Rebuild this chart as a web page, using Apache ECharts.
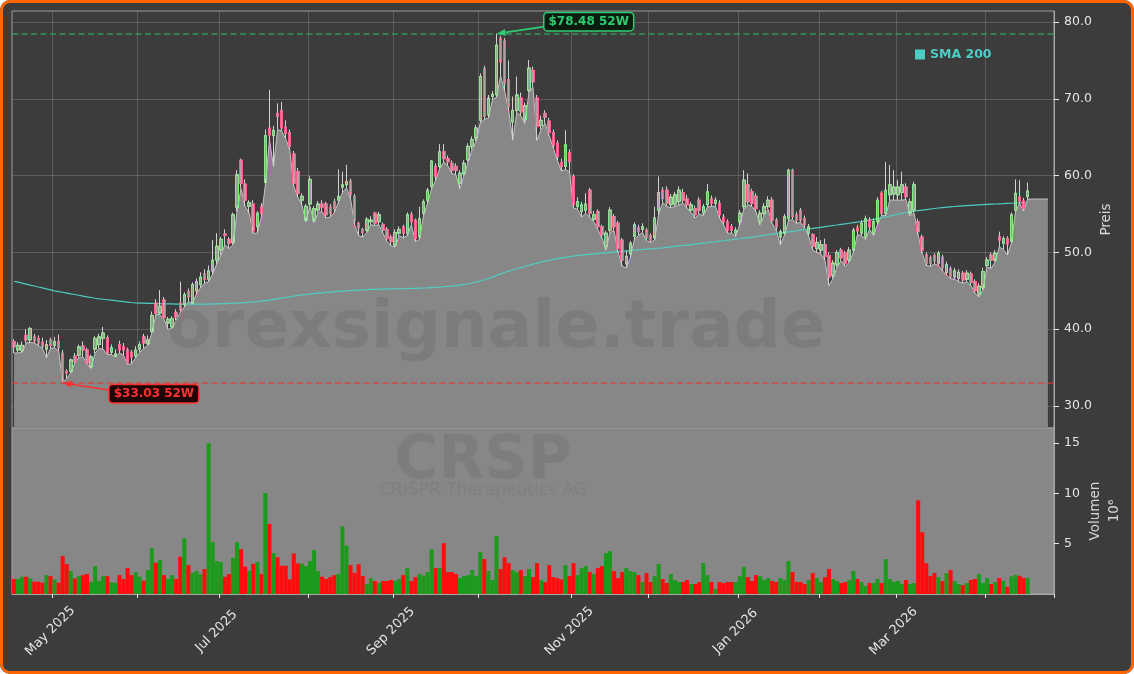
<!DOCTYPE html>
<html><head><meta charset="utf-8">
<script src="https://cdn.jsdelivr.net/npm/echarts@6/dist/echarts.min.js"></script>
<style>
html,body{margin:0;padding:0;background:#ffffff;}
#wrap{position:relative;width:1134px;height:674px;background:#3c3c3c;border-radius:10px;overflow:hidden;}
#chart{position:absolute;left:0;top:0;width:1134px;height:674px;}
#frame{position:absolute;left:0;top:0;width:1134px;height:674px;box-sizing:border-box;border:3px solid #ff6600;border-radius:10px;pointer-events:none;}
</style></head><body>
<div id="wrap"><div id="chart"></div><div id="frame"></div></div>
<script>
// ---------------- data ----------------
const startDate = '2025-04-16';
const holidays = ['2025-04-18','2025-05-26','2025-06-19','2025-07-04','2025-09-01','2025-11-27','2025-12-25','2026-01-01','2026-01-19','2026-02-16','2026-04-03'];
const monthNames = ['Jan','Feb','Mar','Apr','May','Jun','Jul','Aug','Sep','Oct','Nov','Dec'];
const priceTicks = [30, 40, 50, 60, 70, 80];
const volumeTicks = [5, 10, 15];
const high52 = 78.48;
const low52 = 33.03;
const ticker = 'CRSP';
const companyName = 'CRISPR Therapeutics AG';
const watermark = 'orexsignale.trade';

const opens = [
38.4,37.3,37.2,39.2,38.6,39.0,38.8,38.3,37.4,38.6,
37.9,38.4,36.9,34.5,34.5,36.5,36.6,37.8,37.3,35.1,
37.4,38.0,38.8,38.9,37.0,36.5,38.0,37.7,37.3,37.0,
36.5,37.4,39.0,38.1,39.7,43.4,42.1,43.8,40.8,40.3,
42.2,43.4,43.2,44.9,43.4,45.0,45.8,47.2,46.5,47.6,
49.0,50.3,52.4,51.7,51.3,55.9,62.0,58.9,56.0,56.3,
53.35,55.95,59.1,66.2,65.2,68.1,68.5,66.3,65.6,62.8,
60.5,56.8,54.2,56.3,54.2,55.5,56.3,56.3,55.9,56.6,
56.8,58.5,58.8,59.3,57.3,53.8,53.0,52.9,54.0,55.1,
54.0,53.6,53.0,52.0,51.0,52.5,53.3,52.5,54.95,54.2,
52.0,55.1,56.8,58.6,61.2,61.2,63.1,62.2,61.6,61.2,
59.0,60.3,62.1,63.8,64.9,67.2,73.9,67.9,70.3,70.5,
77.8,77.5,72.5,67.0,68.5,70.1,67.3,71.1,73.7,70.1,
66.5,68.1,67.1,65.6,64.2,61.7,61.2,63.0,59.9,56.0,
55.3,55.5,58.1,54.3,55.3,53.35,50.75,52.9,54.65,53.8,
51.6,48.5,49.8,52.1,53.2,53.0,52.9,52.2,51.9,55.5,
58.1,58.1,56.2,56.3,56.6,57.8,57.0,55.5,55.7,56.8,
55.1,56.2,57.0,56.4,56.4,54.6,54.0,53.35,52.5,54.0,
55.95,58.8,57.9,57.3,54.0,55.1,55.95,56.8,54.2,52.0,
52.5,54.4,60.7,54.9,55.5,54.4,52.5,52.3,50.5,50.3,
51.0,49.6,47.0,48.4,50.3,49.9,49.0,50.3,53.2,52.5,
52.0,54.2,52.5,54.0,57.7,55.1,57.5,57.6,57.5,57.8,
58.5,55.1,55.5,54.0,52.0,49.7,49.3,49.6,48.6,49.4,
47.4,47.9,46.8,46.6,47.3,46.5,47.2,46.2,44.6,45.4,
48.3,49.66,49.0,52.05,51.2,51.8,51.4,55.5,57.2,56.7,
57.26];
const closes = [
37.7,37.9,37.9,38.6,40.1,38.5,38.2,37.8,38.0,37.9,
38.4,37.6,33.2,34.3,36.0,35.8,37.7,37.3,35.6,36.4,
38.8,39.0,39.5,36.9,37.6,36.8,37.3,37.3,35.6,36.4,
37.3,38.0,38.2,38.6,41.8,42.1,43.0,41.5,41.3,41.4,
41.6,42.5,44.5,44.2,45.8,46.2,46.8,46.5,47.6,49.0,
50.8,51.7,52.2,51.2,54.9,60.1,59.0,56.8,56.5,52.8,
55.1,55.1,65.2,65.3,65.9,67.7,66.2,65.5,63.8,59.0,
57.7,57.3,56.0,59.5,55.7,56.3,55.9,54.9,55.1,55.7,
57.3,58.8,59.2,57.5,54.2,53.2,52.6,54.3,54.2,53.8,
54.9,52.9,51.8,51.4,52.6,53.0,52.5,54.9,54.0,51.8,
54.4,56.6,58.1,61.9,59.9,63.1,62.2,61.8,60.7,60.7,
60.3,61.6,63.8,64.7,66.2,72.9,67.7,70.1,70.6,77.0,
74.8,72.0,69.0,68.5,70.5,68.3,69.1,74.0,72.2,66.4,
67.2,67.6,65.6,64.0,62.5,61.2,64.0,61.8,56.2,56.6,
56.2,56.3,55.1,54.9,53.35,52.3,52.5,55.5,53.35,50.5,
49.0,49.5,51.2,53.6,52.7,53.35,51.9,51.6,54.5,57.8,
57.0,56.4,57.2,57.5,58.1,56.8,56.2,56.2,54.9,55.5,
55.95,57.9,56.4,56.8,54.9,54.0,52.9,52.9,52.9,55.1,
59.4,56.6,56.4,55.7,55.1,55.95,56.8,54.2,53.35,52.7,
54.65,60.7,54.65,54.2,54.2,53.6,53.35,50.8,51.3,51.0,
49.5,46.8,48.6,50.0,49.3,48.6,50.3,52.9,52.8,53.8,
54.4,53.35,54.0,56.8,55.1,58.1,58.8,58.5,58.5,58.8,
57.26,56.6,58.8,52.7,50.3,48.6,48.6,48.9,49.9,48.0,
48.4,46.9,47.6,47.4,46.4,47.3,46.1,45.0,45.6,47.5,
49.0,49.0,49.9,51.6,51.8,51.1,54.9,57.7,56.7,55.7,
58.0];
const lows = [
36.9,36.9,37.0,38.2,38.3,38.2,37.9,37.5,36.3,37.5,
37.6,37.2,33.03,33.6,34.3,35.6,36.3,36.4,35.5,34.9,
36.9,37.5,37.4,36.7,36.7,36.4,36.9,36.6,35.4,35.5,
36.3,37.0,37.5,37.9,39.5,41.9,41.9,41.3,40.0,40.1,
41.2,42.2,42.9,43.6,43.3,44.6,45.4,46.0,46.2,47.2,
48.5,49.6,51.0,50.5,51.0,55.3,58.3,56.0,55.1,52.5,
52.5,54.6,58.8,64.6,61.2,66.0,65.8,64.8,63.4,58.6,
57.2,56.2,54.0,56.0,53.9,55.2,55.3,54.5,54.6,55.2,
56.5,57.8,58.4,57.0,53.6,52.2,52.0,52.6,53.6,53.5,
53.6,52.5,51.4,50.9,50.7,52.2,51.9,52.2,53.6,51.4,
51.7,54.8,56.4,58.3,59.4,60.9,61.8,61.3,60.3,60.1,
58.3,60.0,61.8,63.4,64.5,66.9,67.3,67.5,69.9,70.2,
73.0,71.0,68.5,64.6,68.2,67.8,66.8,70.8,71.5,64.6,
66.0,66.8,65.2,63.6,62.0,60.6,60.8,60.5,55.8,55.6,
54.6,55.1,54.6,54.0,53.0,51.9,50.3,52.6,52.8,50.0,
48.2,48.0,49.3,51.7,52.2,52.6,51.5,51.3,51.6,55.0,
56.5,56.0,55.8,56.0,56.2,56.4,55.8,55.2,54.5,55.0,
54.8,55.9,56.0,56.0,54.5,53.6,52.5,52.5,52.1,53.6,
55.6,56.2,56.0,55.3,53.6,54.8,55.6,53.8,52.9,51.0,
52.2,54.1,54.3,53.8,53.9,53.2,52.1,50.3,50.0,49.8,
49.0,45.7,46.6,48.1,48.9,48.2,48.7,50.0,52.3,52.2,
51.7,53.0,52.2,53.7,54.8,54.8,56.8,56.8,56.8,56.8,
56.9,54.8,55.1,52.3,49.9,48.3,48.2,48.5,48.3,47.6,
47.0,46.6,46.5,46.2,46.0,46.2,45.7,44.7,44.2,45.1,
48.1,47.9,48.8,50.7,50.4,49.66,51.2,55.3,56.4,55.4,
56.95];
const highs = [
38.7,38.3,38.4,40.0,40.3,39.4,39.2,38.9,38.6,38.9,
39.0,39.3,37.3,34.8,36.2,36.9,38.0,38.4,37.6,36.7,
39.1,39.4,40.3,39.2,38.0,37.4,38.5,38.2,37.6,37.3,
37.8,38.4,39.4,39.2,42.3,43.9,45.1,44.2,41.6,41.7,
42.6,46.2,44.8,45.3,46.1,46.6,47.4,47.8,48.3,51.6,
52.5,52.0,53.0,52.0,55.2,60.7,62.2,59.5,56.8,56.8,
55.4,56.4,66.0,71.15,66.5,69.4,69.6,67.2,66.0,63.2,
61.0,57.7,56.3,59.9,56.0,56.7,56.8,56.6,56.3,57.0,
60.8,60.5,61.4,59.6,57.6,54.0,53.2,54.6,54.7,55.3,
55.3,53.9,53.3,52.3,53.0,53.4,53.6,55.2,55.3,54.4,
55.95,56.9,58.4,62.0,61.6,64.1,64.1,62.6,62.0,61.6,
60.7,62.0,64.2,65.1,66.6,73.3,74.3,70.5,71.0,78.48,
78.2,77.9,75.0,70.3,72.9,70.8,69.5,75.05,74.2,70.5,
67.8,68.5,67.5,66.0,64.6,62.2,65.9,63.4,60.2,57.2,
56.6,57.7,58.4,55.4,55.6,53.6,52.8,55.9,55.0,54.1,
51.9,50.2,51.5,53.9,53.6,53.8,53.2,52.5,55.95,59.9,
58.5,58.6,57.6,57.9,58.6,58.3,57.5,56.6,56.1,57.2,
56.3,58.9,57.4,57.2,56.8,55.0,54.3,53.7,53.3,55.5,
60.7,60.3,58.3,57.7,55.5,56.4,57.3,57.2,54.5,53.0,
55.0,60.9,60.9,55.3,55.8,54.8,53.7,52.5,52.0,51.6,
51.8,50.0,49.0,50.3,50.6,50.2,50.7,53.2,53.6,54.2,
54.8,54.6,54.4,57.2,58.0,61.8,61.4,60.7,59.4,60.5,
59.0,57.0,59.2,54.4,52.3,50.0,49.6,49.9,50.2,49.7,
48.8,48.2,48.0,47.8,47.6,47.7,47.5,46.5,46.0,48.0,
49.4,50.0,50.3,52.7,52.1,52.1,55.2,59.5,59.4,57.1,
59.1];
// volume in millions
const volumes = [
1.49,1.49,1.72,1.72,1.55,1.22,1.22,1.12,1.88,1.78,
1.45,1.12,3.76,2.97,2.28,1.55,1.78,1.88,1.98,1.22,
2.77,1.29,1.78,1.78,1.16,1.12,1.88,1.49,2.57,1.88,
2.15,1.72,1.32,2.38,4.55,3.10,3.37,1.88,1.49,1.88,
1.49,3.70,5.54,2.87,2.11,2.28,1.98,2.48,14.98,5.15,
3.27,3.17,1.72,1.98,3.60,5.15,4.46,2.71,2.31,3.00,
3.17,1.98,10.03,6.96,4.06,3.66,2.81,2.81,1.45,4.03,
3.04,3.04,2.77,3.27,4.36,2.28,1.72,1.49,1.68,1.88,
1.98,6.73,4.82,2.87,2.11,2.97,1.78,0.99,1.55,1.29,
1.12,1.29,1.29,1.39,1.29,1.49,1.88,2.57,1.29,1.68,
1.98,1.82,2.18,4.46,2.57,2.57,5.05,2.18,2.18,1.98,
1.58,1.78,1.88,2.38,1.78,4.16,3.47,2.28,1.39,5.74,
2.48,3.66,3.07,2.38,2.18,2.38,1.78,2.48,1.68,3.07,
1.39,1.19,2.87,1.68,1.58,1.45,2.87,1.78,3.07,1.88,
2.57,2.77,2.18,1.98,2.57,2.77,4.06,4.26,2.28,1.58,
2.18,2.57,2.28,2.18,1.88,1.19,2.08,1.19,1.78,2.97,
1.49,1.09,1.98,1.39,1.19,1.19,1.39,0.99,0.99,1.19,
3.07,1.88,1.19,0.5,1.19,1.09,1.19,1.19,1.19,1.78,
2.67,1.68,1.29,1.88,1.78,1.39,1.58,1.29,1.19,1.58,
1.39,3.27,2.18,1.19,1.19,0.99,1.39,2.08,1.58,1.19,
1.68,2.48,1.49,1.29,1.09,1.19,1.39,2.28,1.49,1.19,
0.79,1.09,1.09,1.49,1.09,3.47,1.49,1.19,1.29,0.99,
1.39,0.99,1.09,9.31,6.14,3.07,1.78,2.08,1.68,1.29,
2.08,2.38,1.29,0.99,0.89,1.09,1.39,1.49,1.98,1.09,
1.58,0.99,1.19,1.58,1.3,0.7,1.75,1.9,1.8,1.6,
1.6];
const sma200 = [
46.25,46.13,46.0,45.88,45.75,45.63,45.5,45.38,45.25,45.13,
45.0,44.9,44.81,44.71,44.61,44.52,44.42,44.32,44.22,44.13,
44.03,43.96,43.9,43.84,43.78,43.72,43.66,43.6,43.54,43.48,
43.43,43.41,43.39,43.37,43.36,43.34,43.33,43.31,43.3,43.29,
43.28,43.28,43.27,43.27,43.27,43.27,43.27,43.28,43.28,43.29,
43.3,43.32,43.34,43.36,43.38,43.41,43.44,43.47,43.51,43.55,
43.6,43.66,43.73,43.8,43.88,43.96,44.04,44.13,44.22,44.31,
44.4,44.46,44.52,44.58,44.64,44.69,44.74,44.79,44.84,44.89,
44.93,44.97,45.0,45.04,45.07,45.1,45.13,45.15,45.18,45.2,
45.22,45.23,45.24,45.25,45.26,45.27,45.28,45.3,45.31,45.33,
45.35,45.37,45.39,45.42,45.45,45.49,45.53,45.57,45.62,45.68,
45.75,45.83,45.92,46.02,46.14,46.28,46.44,46.6,46.78,46.98,
47.2,47.38,47.55,47.71,47.87,48.02,48.17,48.32,48.47,48.61,
48.75,48.87,48.98,49.09,49.19,49.28,49.36,49.44,49.52,49.59,
49.65,49.7,49.75,49.8,49.85,49.9,49.95,50.0,50.05,50.1,
50.15,50.2,50.24,50.29,50.33,50.38,50.42,50.47,50.51,50.56,
50.6,50.66,50.72,50.78,50.84,50.9,50.96,51.02,51.08,51.14,
51.2,51.26,51.33,51.39,51.46,51.52,51.59,51.65,51.72,51.78,
51.85,51.92,52.0,52.07,52.15,52.22,52.3,52.37,52.45,52.52,
52.6,52.67,52.75,52.82,52.9,52.97,53.05,53.12,53.2,53.27,
53.35,53.42,53.5,53.57,53.65,53.72,53.8,53.87,53.95,54.02,
54.1,54.2,54.3,54.41,54.52,54.63,54.74,54.86,54.97,55.09,
55.2,55.28,55.36,55.44,55.51,55.58,55.65,55.72,55.78,55.84,
55.9,55.94,55.98,56.02,56.06,56.1,56.13,56.16,56.19,56.22,
56.25,56.28,56.3,56.33,56.35,56.38,56.4,56.43,56.45,56.48,
56.5];

// ---------------- build ----------------
const N = opens.length;
const EXTRA = 6;          // empty trading days on the right of the last bar
const AREA_EXT = 5;       // the filled low-area continues flat over these
function tradingDays(start, n) {
  const out = [];
  let t = Date.parse(start + 'T00:00:00Z');
  while (out.length < n) {
    const d = new Date(t);
    const wd = d.getUTCDay();
    const s = d.toISOString().slice(0, 10);
    if (wd !== 0 && wd !== 6 && holidays.indexOf(s) < 0) out.push(s);
    t += 86400000;
  }
  return out;
}
const dates = tradingDays(startDate, N + EXTRA);
const monthStart = dates.map((d, i) => i > 0 && d.slice(0, 7) !== dates[i - 1].slice(0, 7));
const tickFn = (i) => monthStart[i];
const labelFn = (i) => monthStart[i] && (parseInt(dates[i].slice(5, 7), 10) % 2 === 1);
const fmtDate = (v) => monthNames[parseInt(v.slice(5, 7), 10) - 1] + ' ' + v.slice(0, 4);

const GREEN_VOL = '#1c9a1c', RED_VOL = '#ff0c0c';
const wickData = opens.map((o, i) => [o, closes[i], lows[i], highs[i]]);
const bodyData = opens.map((o, i) => [o, closes[i], Math.min(o, closes[i]), Math.max(o, closes[i])]);
const areaData = lows.concat(new Array(AREA_EXT).fill(lows[N - 1]));
const volData = volumes.map((v, i) => ({ value: v, itemStyle: { color: closes[i] >= opens[i] ? GREEN_VOL : RED_VOL } }));

const FONT = 'DejaVu Sans';
const gridLine = 'rgba(255,255,255,0.17)';
const axisCol = '#a8a8a8';
const txtCol = '#e4e4e4';

const chart = echarts.init(document.getElementById('chart'));
chart.setOption({
  animation: false,
  backgroundColor: 'transparent',
  textStyle: { fontFamily: FONT },
  legend: {
    data: ['SMA 200'], left: 915, top: 48, padding: 0, icon: 'rect',
    itemWidth: 10, itemHeight: 10, itemGap: 5,
    textStyle: { color: '#4ecdc4', fontWeight: 'bold', fontSize: 12.5, fontFamily: FONT }
  },
  grid: [
    { left: 12, right: 80, top: 11, height: 417, show: true, borderColor: '#9c9c9c', borderWidth: 1, backgroundColor: 'transparent', outerBoundsMode: 'none' },
    { left: 12, right: 80, top: 428, height: 166, show: true, borderColor: '#a4a4a4', borderWidth: 1, backgroundColor: '#878787', outerBoundsMode: 'none' }
  ],
  xAxis: [
    { type: 'category', gridIndex: 0, data: dates, boundaryGap: true,
      axisLine: { show: false }, axisTick: { show: false }, axisLabel: { show: false },
      splitLine: { show: true, interval: tickFn, lineStyle: { color: gridLine, width: 1 } } },
    { type: 'category', gridIndex: 1, data: dates, boundaryGap: true,
      axisLine: { show: true, lineStyle: { color: axisCol, width: 1 } },
      axisTick: { show: true, interval: tickFn, length: 4, lineStyle: { color: '#e8e8e8' } },
      axisLabel: { show: true, interval: labelFn, rotate: 45, align: 'center', verticalAlign: 'middle',
        margin: 33, padding: [0, 12, 0, 0], color: txtCol, fontSize: 13, fontFamily: FONT, formatter: fmtDate },
      splitLine: { show: false } }
  ],
  yAxis: [
    { type: 'value', gridIndex: 0, position: 'right', min: 27.14, max: 81.43, splitNumber: 5,
      axisLine: { show: true, lineStyle: { color: axisCol } },
      axisTick: { show: true, length: 5, customValues: priceTicks, lineStyle: { color: '#e8e8e8' } },
      axisLabel: { customValues: priceTicks, formatter: (v) => v.toFixed(1), color: txtCol, fontSize: 12.5, margin: 10, fontFamily: FONT },
      splitLine: { show: true, lineStyle: { color: gridLine } },
      name: 'Preis', nameLocation: 'middle', nameRotate: 90, nameGap: 45, nameMoveOverlap: false,
      nameTextStyle: { color: '#d8d8d8', fontSize: 13.5, fontFamily: FONT } },
    { type: 'value', gridIndex: 1, position: 'right', min: 0, max: 16.5,
      axisLine: { show: true, lineStyle: { color: axisCol } },
      axisTick: { show: true, length: 5, customValues: volumeTicks, lineStyle: { color: '#e8e8e8' } },
      axisLabel: { customValues: volumeTicks, color: txtCol, fontSize: 12.5, margin: 10, fontFamily: FONT },
      splitLine: { show: false },
      name: 'Volumen\n10\u2076', nameLocation: 'middle', nameRotate: 90, nameGap: 32, nameMoveOverlap: false,
      nameTextStyle: { color: '#d8d8d8', fontSize: 13.5, lineHeight: 19, fontFamily: FONT } }
  ],
  series: [
    { name: 'low-area', type: 'line', xAxisIndex: 0, yAxisIndex: 0, data: areaData, z: 1,
      symbol: 'none', showSymbol: false, silent: true,
      lineStyle: { color: '#c4c4c4', width: 1 },
      areaStyle: { color: '#878787', opacity: 1, origin: 'start' } },
    { name: 'SMA 200', type: 'line', xAxisIndex: 0, yAxisIndex: 0, data: sma200, z: 3,
      symbol: 'none', showSymbol: false, silent: true,
      lineStyle: { color: '#4ecdc4', width: 1.2 }, itemStyle: { color: '#4ecdc4' } },
    { name: 'wicks', type: 'candlestick', xAxisIndex: 0, yAxisIndex: 0, data: wickData, z: 4, barWidth: 3,
      silent: true,
      itemStyle: { color: 'transparent', color0: 'transparent', borderColor: '#d2d2d2', borderColor0: '#d2d2d2', borderWidth: 1 },
      markLine: { silent: true, symbol: 'none', label: { show: false },
        data: [
          { yAxis: high52, lineStyle: { color: 'rgba(46,204,113,0.62)', width: 1.6, type: [6, 3.5] } },
          { yAxis: low52, lineStyle: { color: 'rgba(235,55,55,0.75)', width: 1.6, type: [6, 3.5] } }
        ] } },
    { name: 'bodies', type: 'candlestick', xAxisIndex: 0, yAxisIndex: 0, data: bodyData, z: 5, barWidth: 3,
      silent: true,
      itemStyle: { color: 'rgba(230,248,230,0.55)', color0: 'rgba(255,205,218,0.65)', borderColor: '#8ee58e', borderColor0: '#ff5c8a', borderWidth: 1 } },
    { name: 'Volumen', type: 'bar', xAxisIndex: 1, yAxisIndex: 1, data: volData, barCategoryGap: '0%', z: 3, silent: true }
  ]
});

// ---------------- annotations & watermarks ----------------
function annotation(id, idx, val, text, color, bg, dx, dy, startDy) {
  const p = chart.convertToPixel({ xAxisIndex: 0, yAxisIndex: 0 }, [idx, val]);
  const bx = p[0] + dx, by = p[1] + dy;
  const sx = bx, sy = by + startDy;
  const ang = Math.atan2(p[1] - sy, p[0] - sx);
  const L = 9, W = 3.5;
  const baseX = p[0] - L * Math.cos(ang), baseY = p[1] - L * Math.sin(ang);
  const nx = -Math.sin(ang) * W, ny = Math.cos(ang) * W;
  return [
    { type: 'line', id: id + 'l', z: 20, shape: { x1: sx, y1: sy, x2: baseX, y2: baseY }, style: { stroke: color, lineWidth: 1.6 } },
    { type: 'polygon', id: id + 'h', z: 20, shape: { points: [[p[0], p[1]], [baseX + nx, baseY + ny], [baseX - nx, baseY - ny]] }, style: { fill: color } },
    { type: 'text', id: id + 't', z: 21, x: bx, y: by,
      style: { text: text, fill: color, font: 'bold 12px "DejaVu Sans"', align: 'left', verticalAlign: 'middle',
        backgroundColor: bg, borderColor: color, borderWidth: 1.5, borderRadius: 3, padding: [3, 4, 2, 4] } }
  ];
}
const hiIdx = highs.indexOf(Math.max.apply(null, highs));
const loIdx = lows.indexOf(Math.min.apply(null, lows));
const els = [
  { type: 'text', id: 'wm1', z: 2, x: 496, y: 330, silent: true,
    style: { text: watermark, fill: 'rgba(0,0,0,0.075)', font: 'bold 66px "DejaVu Sans"', align: 'center', verticalAlign: 'middle' } },
  { type: 'text', id: 'wm2', z: 2, x: 483, y: 462, silent: true,
    style: { text: ticker, fill: 'rgba(0,0,0,0.07)', font: 'bold 60px "DejaVu Sans"', align: 'center', verticalAlign: 'middle' } },
  { type: 'text', id: 'wm3', z: 2, x: 483, y: 491, silent: true,
    style: { text: companyName, fill: 'rgba(0,0,0,0.06)', font: '17px "DejaVu Sans"', align: 'center', verticalAlign: 'middle' } }
].concat(
  annotation('hi', hiIdx, high52, '$' + high52.toFixed(2) + ' 52W', '#2ecc71', '#0a1c0f', 48, -12, 5),
  annotation('lo', loIdx, low52, '$' + low52.toFixed(2) + ' 52W', '#ff3030', '#1e0606', 47, 11, -3.5)
);
chart.setOption({ graphic: { elements: els } });
</script>
</body></html>
